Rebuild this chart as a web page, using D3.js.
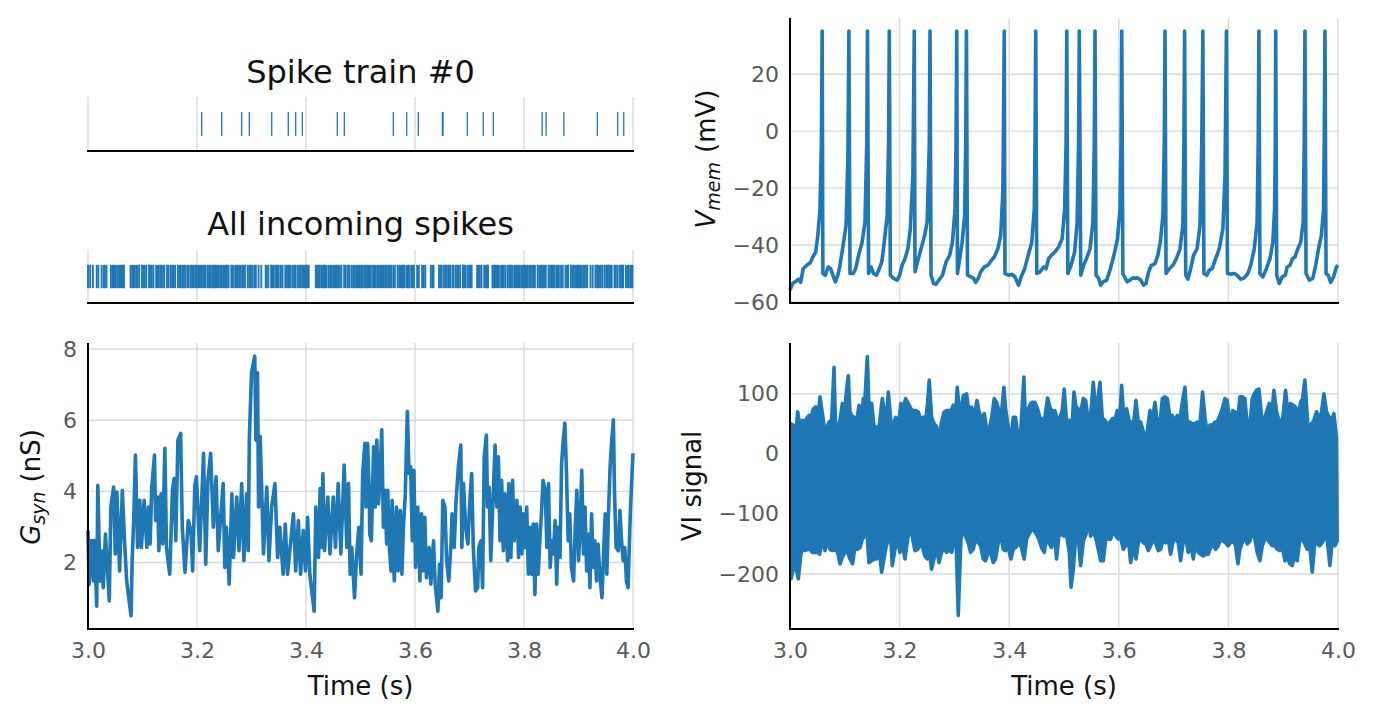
<!DOCTYPE html>
<html><head><meta charset="utf-8">
<script src="https://cdn.jsdelivr.net/npm/d3@7"></script>
<style>body{margin:0;background:#fff}svg text{font-family:"DejaVu Sans",sans-serif}</style>
</head><body><svg id="c" width="1374" height="719"></svg>
<script>
// ---------------- DATA ----------------
const xDomain = [3.0, 4.0];
const xTicks = [3.0, 3.2, 3.4, 3.6, 3.8, 4.0];
const gsynTicks = [2, 4, 6, 8];
const vmemTicks = [-60, -40, -20, 0, 20];
const viTicks = [-200, -100, 0, 100];

const spikeTrain0 = [3.2086,3.2453,3.2820,3.2960,3.3371,3.3675,3.3811,3.3932,3.4574,3.4703,3.5602,3.5848,3.6061,3.6502,3.6515,3.6960,3.7253,3.7437,3.8333,3.8405,3.8732,3.9346,3.9719,3.9830];

const allSpikes = [3.000,3.004,3.009,3.016,3.019,3.025,3.029,3.031,3.034,3.042,3.045,3.047,3.049,3.051,3.054,3.057,3.059,3.062,3.064,3.066,
3.078,3.081,3.083,3.086,3.089,3.091,3.094,3.099,3.102,3.104,3.107,3.112,3.115,3.117,3.120,3.125,3.128,3.130,3.133,3.135,3.138,3.140,
3.145,3.148,3.152,3.155,3.157,3.160,3.165,3.168,3.170,3.173,3.175,3.178,3.182,3.185,3.189,3.192,3.194,3.197,3.199,3.202,3.204,3.207,
3.209,3.212,3.214,3.216,3.220,3.223,3.225,3.228,3.230,3.233,3.235,3.238,3.240,3.243,3.245,3.248,3.250,3.253,3.255,3.258,3.263,3.266,
3.270,3.273,3.275,3.278,3.280,3.283,3.285,3.288,3.293,3.296,3.298,3.301,3.305,3.308,3.313,3.318,3.326,3.328,3.331,3.336,3.338,3.341,
3.345,3.348,3.350,3.354,3.357,3.362,3.364,3.367,3.369,3.372,3.376,3.379,3.381,3.385,3.388,3.390,3.393,3.395,3.398,3.400,3.403,3.405,
3.418,3.420,3.423,3.425,3.428,3.430,3.433,3.435,3.438,3.442,3.445,3.447,3.450,3.452,3.455,3.457,3.460,3.462,3.465,3.470,3.473,3.477,
3.480,3.484,3.487,3.489,3.492,3.494,3.497,3.499,3.502,3.504,3.507,3.509,3.512,3.514,3.517,3.519,3.523,3.526,3.528,3.531,3.533,3.536,
3.538,3.541,3.543,3.546,3.548,3.551,3.553,3.556,3.560,3.563,3.568,3.571,3.573,3.576,3.578,3.580,3.584,3.587,3.589,3.593,3.596,3.598,
3.604,3.607,3.613,3.616,3.619,3.629,3.632,3.634,3.644,3.647,3.649,3.653,3.656,3.658,3.661,3.663,3.665,3.669,3.671,3.675,3.678,3.680,
3.683,3.688,3.690,3.693,3.697,3.700,3.702,3.704,3.714,3.717,3.719,3.722,3.727,3.730,3.732,3.734,3.742,3.745,3.747,3.750,3.752,3.754,
3.758,3.761,3.763,3.766,3.770,3.773,3.775,3.778,3.782,3.785,3.787,3.790,3.792,3.795,3.797,3.800,3.802,3.805,3.807,3.810,3.812,3.815,
3.817,3.820,3.825,3.828,3.830,3.833,3.835,3.838,3.840,3.845,3.848,3.850,3.853,3.855,3.859,3.862,3.864,3.868,3.871,3.876,3.879,3.881,
3.886,3.889,3.891,3.894,3.896,3.899,3.901,3.904,3.906,3.909,3.911,3.914,3.916,3.922,3.926,3.931,3.934,3.936,3.939,3.941,3.944,3.948,
3.951,3.953,3.956,3.958,3.961,3.966,3.968,3.971,3.975,3.978,3.980,3.982,3.987,3.990,3.992,3.995,3.997,3.999];

const gsynTrace = [
[3.000,2.90],[3.002,1.38],[3.007,2.62],[3.010,1.48],[3.012,2.62],[3.016,0.77],[3.018,4.17],[3.022,1.48],[3.025,2.33],[3.028,1.29],
[3.032,2.80],[3.039,0.92],[3.042,3.56],[3.047,4.12],[3.050,2.24],[3.053,3.98],[3.058,1.76],[3.063,4.03],[3.067,2.61],[3.071,1.48],
[3.079,0.50],[3.081,2.05],[3.084,3.27],[3.087,5.02],[3.091,2.42],[3.095,3.75],[3.098,2.42],[3.103,3.75],[3.108,2.42],[3.111,3.56],
[3.114,2.52],[3.117,4.12],[3.122,5.02],[3.124,3.18],[3.128,3.84],[3.130,2.33],[3.134,3.93],[3.137,2.52],[3.141,5.21],[3.144,2.42],
[3.150,1.67],[3.155,4.03],[3.158,4.36],[3.161,2.61],[3.165,5.44],[3.170,5.63],[3.173,2.99],[3.178,1.72],[3.184,3.18],[3.189,2.90],
[3.192,1.76],[3.196,4.17],[3.199,4.41],[3.205,2.33],[3.212,5.07],[3.216,1.95],[3.220,4.31],[3.225,5.07],[3.230,2.99],[3.235,4.41],
[3.239,2.33],[3.248,4.22],[3.251,1.86],[3.254,2.99],[3.259,1.39],[3.264,3.93],[3.267,2.14],[3.273,3.84],[3.277,2.33],[3.282,4.22],
[3.286,2.05],[3.291,3.93],[3.294,2.33],[3.296,5.44],[3.300,7.33],[3.306,7.80],[3.308,5.44],[3.311,7.33],[3.313,3.56],[3.316,5.54],
[3.322,2.24],[3.328,4.12],[3.332,2.05],[3.337,3.56],[3.343,4.22],[3.348,2.14],[3.352,2.99],[3.358,1.67],[3.362,3.08],[3.366,1.67],
[3.377,3.37],[3.381,1.76],[3.386,3.18],[3.390,1.67],[3.395,2.90],[3.399,1.76],[3.403,3.27],[3.407,1.67],[3.415,0.63],[3.418,3.56],
[3.423,2.14],[3.426,4.08],[3.429,2.42],[3.431,4.50],[3.434,2.33],[3.440,3.84],[3.444,2.24],[3.450,3.84],[3.454,2.42],[3.459,4.22],
[3.464,2.24],[3.470,4.74],[3.475,2.42],[3.478,4.22],[3.481,1.67],[3.484,2.42],[3.489,1.01],[3.493,2.24],[3.497,2.99],[3.501,1.67],
[3.504,4.50],[3.508,5.35],[3.510,3.56],[3.513,5.35],[3.516,4.03],[3.517,2.80],[3.520,2.61],[3.524,5.25],[3.527,3.56],[3.530,5.44],
[3.533,3.65],[3.536,4.50],[3.539,5.73],[3.542,2.99],[3.545,4.03],[3.548,2.52],[3.550,4.03],[3.553,2.42],[3.556,1.76],[3.558,3.75],
[3.562,1.48],[3.566,3.56],[3.569,1.76],[3.573,3.46],[3.576,1.67],[3.579,3.08],[3.582,3.84],[3.586,6.25],[3.589,4.50],[3.592,4.69],
[3.595,2.61],[3.598,4.59],[3.601,1.86],[3.605,3.56],[3.609,1.48],[3.612,3.37],[3.615,1.76],[3.618,3.27],[3.621,1.57],[3.626,2.42],
[3.629,1.39],[3.634,2.61],[3.637,1.39],[3.642,0.63],[3.645,1.95],[3.648,1.01],[3.651,3.75],[3.655,3.56],[3.658,2.05],[3.662,1.48],
[3.666,2.52],[3.668,3.37],[3.672,2.42],[3.675,3.65],[3.680,4.78],[3.684,5.30],[3.686,2.42],[3.689,4.22],[3.693,2.99],[3.697,2.52],
[3.701,3.84],[3.704,4.50],[3.707,2.42],[3.711,1.20],[3.715,1.29],[3.717,2.42],[3.721,2.61],[3.724,1.29],[3.727,4.97],[3.731,5.58],
[3.733,3.56],[3.736,4.12],[3.739,2.05],[3.744,4.12],[3.747,5.30],[3.750,3.56],[3.753,4.97],[3.756,2.61],[3.759,4.31],[3.762,2.33],
[3.765,3.93],[3.770,2.05],[3.772,4.22],[3.776,2.14],[3.779,4.31],[3.782,2.61],[3.787,3.75],[3.790,2.14],[3.793,3.56],[3.796,2.24],
[3.799,3.37],[3.802,2.42],[3.805,3.56],[3.808,1.67],[3.811,2.99],[3.814,1.67],[3.817,3.08],[3.820,1.10],[3.823,3.08],[3.826,1.67],
[3.829,2.61],[3.832,3.37],[3.835,4.31],[3.839,4.03],[3.842,2.42],[3.845,4.22],[3.848,1.86],[3.851,2.61],[3.854,2.24],[3.857,3.18],
[3.860,1.39],[3.863,2.99],[3.866,2.14],[3.869,4.78],[3.872,5.44],[3.875,5.92],[3.878,4.50],[3.881,2.61],[3.884,3.37],[3.887,1.86],
[3.891,1.48],[3.894,2.99],[3.897,4.03],[3.900,2.05],[3.903,2.99],[3.906,4.59],[3.909,2.24],[3.912,3.56],[3.915,1.76],[3.918,2.80],
[3.921,1.29],[3.924,3.37],[3.927,1.86],[3.930,2.61],[3.933,1.48],[3.936,2.52],[3.939,1.67],[3.943,1.01],[3.946,2.24],[3.949,3.37],
[3.952,1.67],[3.955,3.37],[3.958,4.69],[3.961,5.44],[3.964,6.01],[3.966,4.03],[3.969,2.42],[3.973,2.33],[3.976,3.46],[3.979,2.61],
[3.982,2.05],[3.985,2.42],[3.988,1.48],[3.991,1.29],[3.995,3.37],[3.998,4.41],[4.000,5.07]];

const vmemTrace = [
[3.0000,-55.8],[3.0046,-53.5],[3.0111,-52.7],[3.0156,-52.0],[3.0195,-53.1],[3.0241,-48.3],[3.0306,-47.1],[3.0371,-46.2],[3.0417,-44.2],[3.0469,-42.4],[3.0508,-36.6],[3.0547,-27.3],[3.0573,-4.1],[3.0587,35.2],
[3.0600,-50.0],[3.0645,-50.6],[3.0697,-47.7],[3.0743,-48.3],[3.0782,-50.6],[3.0828,-52.9],[3.0873,-50.6],[3.0912,-47.1],[3.0978,-39.0],[3.1023,-33.1],[3.1056,-9.9],[3.1075,35.2],
[3.1095,-50.0],[3.1153,-50.0],[3.1199,-48.3],[3.1251,-43.6],[3.1316,-39.0],[3.1368,-32.0],[3.1401,-4.1],[3.1414,35.2],
[3.1434,-50.0],[3.1479,-47.7],[3.1525,-50.0],[3.1577,-50.6],[3.1629,-48.3],[3.1675,-45.9],[3.1720,-39.0],[3.1773,-29.7],[3.1799,-4.1],[3.1812,35.2],
[3.1831,-50.6],[3.1890,-51.7],[3.1955,-52.3],[3.2001,-50.6],[3.2046,-47.1],[3.2098,-44.8],[3.2151,-41.3],[3.2196,-34.3],[3.2242,-15.7],[3.2268,35.2],
[3.2281,-49.4],[3.2327,-45.9],[3.2392,-41.3],[3.2457,-36.6],[3.2503,-32.0],[3.2542,-4.1],[3.2555,35.2],
[3.2574,-50.6],[3.2620,-53.5],[3.2665,-53.8],[3.2718,-52.3],[3.2783,-50.6],[3.2848,-45.9],[3.2913,-43.6],[3.2965,-39.0],[3.3011,-27.3],[3.3030,-4.1],[3.3043,35.2],
[3.3056,-50.0],[3.3095,-45.0],[3.3141,-39.0],[3.3187,-29.7],[3.3207,-4.1],[3.3220,35.2],
[3.3239,-50.6],[3.3304,-51.2],[3.3350,-51.7],[3.3389,-53.1],[3.3434,-51.7],[3.3480,-49.4],[3.3545,-47.7],[3.3610,-47.1],[3.3676,-45.4],[3.3728,-44.2],[3.3793,-41.3],[3.3845,-36.6],[3.3884,-21.5],[3.3910,35.2],
[3.3923,-50.0],[3.3988,-50.6],[3.4053,-50.3],[3.4106,-51.2],[3.4171,-54.1],[3.4217,-51.2],[3.4282,-48.3],[3.4347,-43.6],[3.4412,-39.0],[3.4458,-27.3],[3.4471,-4.1],[3.4484,35.2],
[3.4503,-50.0],[3.4562,-49.4],[3.4627,-47.7],[3.4673,-48.3],[3.4718,-44.8],[3.4770,-43.6],[3.4836,-42.4],[3.4901,-40.7],[3.4966,-37.8],[3.5012,-27.3],[3.5038,-4.1],[3.5051,35.2],
[3.5070,-50.0],[3.5129,-47.1],[3.5194,-42.4],[3.5240,-32.0],[3.5266,-4.1],[3.5279,35.2],
[3.5305,-50.6],[3.5357,-47.1],[3.5410,-44.8],[3.5475,-41.3],[3.5527,-32.0],[3.5553,-4.1],[3.5566,35.2],
[3.5585,-50.6],[3.5631,-51.7],[3.5670,-54.1],[3.5715,-52.9],[3.5780,-52.3],[3.5846,-48.3],[3.5911,-43.6],[3.5976,-37.8],[3.6022,-27.3],[3.6041,-4.1],[3.6054,35.2],
[3.6074,-50.0],[3.6106,-51.2],[3.6152,-52.9],[3.6204,-52.3],[3.6256,-51.5],[3.6302,-51.7],[3.6347,-51.5],[3.6400,-52.3],[3.6452,-54.1],[3.6497,-53.5],[3.6543,-49.4],[3.6595,-47.1],[3.6660,-46.5],[3.6712,-43.6],[3.6758,-39.0],[3.6804,-29.7],[3.6830,-4.1],[3.6843,35.2],
[3.6862,-50.0],[3.6921,-48.3],[3.6986,-47.1],[3.7051,-44.8],[3.7117,-41.3],[3.7169,-33.1],[3.7188,-4.1],[3.7201,35.2],
[3.7221,-50.6],[3.7260,-52.0],[3.7312,-48.3],[3.7364,-43.6],[3.7429,-41.3],[3.7481,-33.1],[3.7514,-4.1],[3.7534,35.2],
[3.7553,-50.0],[3.7605,-50.6],[3.7651,-48.8],[3.7703,-48.3],[3.7768,-44.8],[3.7833,-41.3],[3.7899,-34.3],[3.7938,-15.7],[3.7964,35.2],
[3.7983,-50.0],[3.8042,-50.2],[3.8107,-50.0],[3.8159,-50.6],[3.8224,-52.0],[3.8289,-51.5],[3.8355,-50.0],[3.8407,-47.1],[3.8472,-41.3],[3.8524,-32.0],[3.8544,-4.1],[3.8557,35.2],
[3.8576,-50.0],[3.8628,-51.2],[3.8693,-48.3],[3.8759,-44.8],[3.8811,-39.0],[3.8843,-27.3],[3.8856,-4.1],[3.8863,35.2],
[3.8882,-50.6],[3.8928,-53.5],[3.8980,-51.2],[3.9039,-50.6],[3.9071,-47.7],[3.9123,-47.1],[3.9169,-44.8],[3.9215,-44.2],[3.9267,-41.3],[3.9319,-39.0],[3.9364,-32.0],[3.9384,-4.1],[3.9397,35.2],
[3.9417,-50.0],[3.9475,-52.3],[3.9540,-51.7],[3.9593,-47.1],[3.9645,-41.3],[3.9697,-36.6],[3.9736,-27.3],[3.9749,-4.1],[3.9762,35.2],
[3.9782,-50.0],[3.9821,-50.6],[3.9867,-53.1],[3.9919,-51.2],[3.9971,-47.7],[4.0000,-47.1]];

const viUpper = [
[3.0018,50],[3.0061,48],[3.0103,28],[3.0140,70],[3.0182,45],[3.0225,56],[3.0262,53],[3.0304,59],[3.0347,64],[3.0383,61],
[3.0426,75],[3.0468,78],[3.0505,56],[3.0547,95],[3.0578,75],[3.0626,45],[3.0669,42],[3.0711,53],[3.0760,56],[3.0803,144],
[3.0833,39],[3.0870,45],[3.0912,56],[3.0955,84],[3.0991,50],[3.1021,97],[3.1064,130],[3.1094,70],[3.1125,64],[3.1173,61],
[3.1216,53],[3.1259,81],[3.1295,48],[3.1338,92],[3.1368,92],[3.1411,162],[3.1441,78],[3.1490,84],[3.1538,42],[3.1581,45],
[3.1623,42],[3.1684,92],[3.1721,72],[3.1751,48],[3.1794,103],[3.1842,53],[3.1885,48],[3.1927,61],[3.1976,45],[3.2024,84],
[3.2067,78],[3.2110,92],[3.2158,84],[3.2207,75],[3.2249,72],[3.2292,72],[3.2341,70],[3.2389,56],[3.2432,61],[3.2475,56],
[3.2511,84],[3.2541,123],[3.2584,61],[3.2633,50],[3.2675,45],[3.2718,23],[3.2766,53],[3.2815,70],[3.2858,72],[3.2900,72],
[3.2937,72],[3.2979,81],[3.3022,64],[3.3052,111],[3.3083,78],[3.3131,78],[3.3162,97],[3.3222,100],[3.3265,70],[3.3314,78],
[3.3362,61],[3.3411,89],[3.3447,72],[3.3496,56],[3.3544,67],[3.3587,42],[3.3630,39],[3.3678,59],[3.3727,92],[3.3770,86],
[3.3812,72],[3.3861,70],[3.3903,111],[3.3934,75],[3.3982,45],[3.4031,23],[3.4073,61],[3.4116,61],[3.4165,23],[3.4213,42],
[3.4268,128],[3.4298,48],[3.4347,75],[3.4390,84],[3.4420,86],[3.4469,86],[3.4517,75],[3.4560,61],[3.4602,56],[3.4651,61],
[3.4700,93],[3.4742,78],[3.4785,70],[3.4833,72],[3.4882,56],[3.4925,61],[3.4967,72],[3.5004,108],
[3.5049,50],[3.5097,56],[3.5140,34],[3.5182,103],[3.5219,78],[3.5261,75],[3.5304,70],[3.5353,92],[3.5395,89],[3.5444,53],
[3.5486,64],[3.5535,119],[3.5578,70],[3.5614,89],[3.5657,119],[3.5699,59],[3.5748,56],[3.5790,48],[3.5839,53],[3.5888,59],
[3.5930,56],[3.5973,72],[3.6009,48],[3.6052,114],[3.6094,53],[3.6143,75],[3.6186,56],[3.6234,50],[3.6277,56],[3.6313,89],
[3.6356,53],[3.6398,53],[3.6447,37],[3.6490,23],[3.6520,39],[3.6569,72],[3.6611,56],[3.6660,86],[3.6702,53],[3.6751,50],
[3.6794,92],[3.6836,95],[3.6885,92],[3.6933,61],[3.6976,64],[3.7025,53],[3.7067,64],[3.7116,56],[3.7158,86],[3.7207,111],
[3.7250,50],[3.7298,53],[3.7341,50],[3.7389,50],[3.7432,53],[3.7481,50],[3.7529,103],[3.7572,61],[3.7614,34],[3.7663,48],
[3.7712,48],[3.7754,53],[3.7797,53],[3.7845,64],[3.7888,75],[3.7937,92],[3.7979,89],[3.8028,42],[3.8076,72],[3.8119,70],
[3.8162,50],[3.8210,95],[3.8253,95],[3.8301,92],[3.8344,48],[3.8393,50],[3.8435,92],[3.8472,100],[3.8514,106],[3.8557,108],
[3.8605,61],[3.8648,56],[3.8697,70],[3.8745,84],[3.8788,61],[3.8830,106],[3.8879,70],[3.8922,56],[3.8958,42],[3.9001,67],
[3.9043,106],[3.9092,61],[3.9134,84],[3.9183,81],[3.9225,78],[3.9274,64],[3.9317,86],[3.9353,92],[3.9396,123],[3.9438,64],
[3.9475,23],[3.9517,50],[3.9560,56],[3.9609,70],[3.9657,56],[3.9700,70],[3.9742,100],[3.9791,70],[3.9839,61],[3.9882,56],
[3.9925,67],[3.9973,26]];

const viLower = [
[3.0018,-208],[3.0061,-192],[3.0103,-186],[3.0152,-208],[3.0195,-170],[3.0225,-159],[3.0274,-161],[3.0322,-159],[3.0365,-159],[3.0407,-164],
[3.0456,-164],[3.0499,-164],[3.0541,-167],[3.0590,-142],[3.0638,-161],[3.0687,-142],[3.0730,-159],[3.0772,-161],[3.0821,-159],[3.0869,-164],
[3.0912,-183],[3.0955,-172],[3.1003,-164],[3.1052,-164],[3.1094,-175],[3.1143,-183],[3.1186,-153],[3.1234,-159],[3.1277,-156],[3.1319,-142],
[3.1368,-137],[3.1398,-123],[3.1441,-181],[3.1490,-178],[3.1538,-175],[3.1581,-175],[3.1623,-156],[3.1672,-197],[3.1715,-175],[3.1751,-156],
[3.1794,-142],[3.1830,-126],[3.1867,-186],[3.1915,-159],[3.1964,-142],[3.2006,-164],[3.2049,-148],[3.2098,-175],[3.2146,-142],[3.2189,-126],
[3.2231,-137],[3.2280,-161],[3.2329,-159],[3.2371,-153],[3.2414,-153],[3.2462,-170],[3.2505,-175],[3.2547,-164],[3.2584,-192],[3.2627,-175],
[3.2675,-156],[3.2718,-181],[3.2766,-164],[3.2809,-156],[3.2858,-164],[3.2900,-159],[3.2949,-164],[3.2997,-142],[3.3028,-134],[3.3070,-269],
[3.3119,-142],[3.3162,-126],[3.3204,-137],[3.3253,-148],[3.3295,-164],[3.3344,-159],[3.3387,-142],[3.3435,-148],[3.3478,-153],[3.3526,-175],
[3.3569,-178],[3.3618,-164],[3.3660,-164],[3.3709,-181],[3.3751,-175],[3.3800,-148],[3.3843,-134],[3.3891,-159],[3.3934,-161],[3.3982,-156],
[3.4031,-175],[3.4073,-159],[3.4116,-156],[3.4165,-150],[3.4213,-153],[3.4274,-175],[3.4317,-142],[3.4359,-134],[3.4408,-126],[3.4456,-128],
[3.4499,-134],[3.4542,-142],[3.4590,-156],[3.4639,-164],[3.4681,-142],[3.4724,-148],[3.4773,-156],[3.4821,-126],[3.4864,-175],[3.4906,-137],
[3.4955,-134],[3.5004,-137],
[3.5049,-137],[3.5097,-164],[3.5128,-222],[3.5170,-192],[3.5213,-139],[3.5261,-142],[3.5304,-186],[3.5353,-145],[3.5401,-134],[3.5444,-109],
[3.5486,-137],[3.5535,-128],[3.5584,-142],[3.5626,-159],[3.5669,-178],[3.5717,-178],[3.5766,-139],[3.5809,-142],[3.5851,-142],[3.5900,-128],
[3.5948,-137],[3.5991,-142],[3.6034,-139],[3.6082,-159],[3.6125,-153],[3.6173,-139],[3.6216,-181],[3.6265,-153],[3.6313,-175],[3.6356,-148],
[3.6404,-139],[3.6447,-148],[3.6496,-150],[3.6538,-161],[3.6581,-153],[3.6629,-142],[3.6678,-150],[3.6720,-161],[3.6763,-159],[3.6812,-142],
[3.6854,-148],[3.6903,-142],[3.6945,-167],[3.6994,-145],[3.7037,-142],[3.7085,-148],[3.7128,-178],[3.7177,-145],[3.7225,-142],[3.7268,-164],
[3.7310,-148],[3.7359,-175],[3.7408,-142],[3.7450,-164],[3.7493,-167],[3.7541,-170],[3.7584,-167],[3.7633,-167],[3.7675,-156],[3.7724,-153],
[3.7766,-159],[3.7815,-153],[3.7858,-142],[3.7906,-145],[3.7949,-148],[3.7997,-153],[3.8040,-148],[3.8089,-145],[3.8131,-153],[3.8174,-183],
[3.8210,-159],[3.8253,-148],[3.8301,-139],[3.8344,-150],[3.8393,-145],[3.8435,-128],[3.8484,-142],[3.8526,-164],[3.8575,-178],[3.8618,-153],
[3.8666,-142],[3.8709,-142],[3.8757,-148],[3.8800,-153],[3.8849,-153],[3.8891,-159],[3.8940,-161],[3.8982,-153],[3.9031,-178],[3.9074,-172],
[3.9122,-183],[3.9165,-186],[3.9207,-172],[3.9256,-178],[3.9304,-142],[3.9347,-142],[3.9396,-150],[3.9438,-159],[3.9487,-156],[3.9530,-197],
[3.9578,-145],[3.9621,-150],[3.9669,-153],[3.9712,-148],[3.9760,-139],[3.9803,-142],[3.9852,-186],[3.9900,-142],[3.9943,-153],[3.9985,-145]];

// ---------------- DRAWING ----------------
const svg = d3.select("#c");
const BLUE = "#1f77b4", GRID = "#dadada", TICKC = "#595959", TXT = "#111";
const FT = 22;
const LW = 3.6;

function panel(o) {
  const x = d3.scaleLinear().domain(xDomain).range([o.x0, o.x1]);
  const y = d3.scaleLinear().domain(o.yDomain).range([o.y1, o.y0]);
  const g = svg.append("g");
  const grid = g.append("g");
  grid.selectAll("line.v").data(xTicks).join("line").attr("class","v")
    .attr("x1", d => x(d)).attr("x2", d => x(d)).attr("y1", o.y0).attr("y2", o.y1)
    .attr("stroke", GRID).attr("stroke-width", 1.4);
  if (o.yTicks) grid.selectAll("line.h").data(o.yTicks).join("line").attr("class","h")
    .attr("x1", o.x0).attr("x2", o.x1).attr("y1", d => y(d)).attr("y2", d => y(d))
    .attr("stroke", GRID).attr("stroke-width", 1.4);
  const data = g.append("g");
  const top = g.append("g");
  return {x, y, data, top, o};
}
function spines(p, left) {
  const o = p.o;
  if (left) p.top.append("line").attr("x1", o.x0).attr("x2", o.x0).attr("y1", o.y0).attr("y2", o.y1 + 1)
    .attr("stroke", "#000").attr("stroke-width", 2);
  p.top.append("line").attr("x1", o.x0 - 1).attr("x2", o.x1 + 1).attr("y1", o.y1).attr("y2", o.y1)
    .attr("stroke", "#000").attr("stroke-width", 2);
}
function styleAxis(sel) {
  sel.select(".domain").remove();
  sel.attr("font-family", null).attr("font-size", null);
  sel.selectAll("text").attr("font-size", FT).attr("fill", TICKC).style("font-family", "'DejaVu Sans'");
}
function xAxis(p) {
  const a = p.top.append("g").attr("transform", `translate(0,${p.o.y1})`)
    .call(d3.axisBottom(p.x).tickValues(xTicks).tickSize(0).tickPadding(13).tickFormat(d3.format(".1f")));
  styleAxis(a);
}
const fmtInt = d => (d < 0 ? "\u2212" + Math.abs(d) : String(d));
function yAxis(p, ticks) {
  const a = p.top.append("g").attr("transform", `translate(${p.o.x0},0)`)
    .call(d3.axisLeft(p.y).tickValues(ticks).tickSize(0).tickPadding(11).tickFormat(fmtInt));
  styleAxis(a);
}
function eventRows(p, times, w) {
  p.data.selectAll("line").data(times).join("line")
    .attr("x1", d => p.x(d)).attr("x2", d => p.x(d))
    .attr("y1", p.y(-0.44)).attr("y2", p.y(0.44))
    .attr("stroke", BLUE).attr("stroke-width", w);
}
function title(text, cx, base) {
  svg.append("text").attr("x", cx).attr("y", base).attr("text-anchor", "middle")
    .attr("font-size", 32).attr("fill", TXT).text(text);
}
function xLabel(cx) {
  svg.append("text").attr("x", cx).attr("y", 695).attr("text-anchor", "middle")
    .attr("font-size", 26).attr("fill", TXT).text("Time (s)");
}
function yLabel(x, cy, parts) {
  const t = svg.append("text").attr("transform", `translate(${x},${cy}) rotate(-90)`)
    .attr("text-anchor", "middle").attr("font-size", 26).attr("fill", TXT);
  parts(t);
}

// Spike train #0
const p1 = panel({x0: 88, x1: 633, y0: 97, y1: 151, yDomain: [-1, 1]});
eventRows(p1, spikeTrain0, 1.3);
spines(p1, false);
title("Spike train #0", 360.5, 83);

// All incoming spikes
const p2 = panel({x0: 88, x1: 633, y0: 250, y1: 303, yDomain: [-1, 1]});
eventRows(p2, allSpikes, 1.9);
spines(p2, false);
title("All incoming spikes", 360.5, 235);

// G_syn
const p3 = panel({x0: 88, x1: 633, y0: 343, y1: 629, yDomain: [0.13, 8.17], yTicks: gsynTicks});
p3.data.append("path").datum(gsynTrace)
  .attr("d", d3.line().x(d => p3.x(d[0])).y(d => p3.y(d[1])))
  .attr("fill", "none").attr("stroke", BLUE).attr("stroke-width", LW).attr("stroke-linejoin", "round");
spines(p3, true); xAxis(p3); yAxis(p3, gsynTicks);
xLabel(360.5);
yLabel(40, 487, t => {
  t.append("tspan").attr("font-style", "italic").text("G");
  t.append("tspan").attr("font-style", "italic").attr("font-size", 19).attr("dy", 5).text("syn");
  t.append("tspan").attr("dy", -5).attr("dx", 9).text("(nS)");
});

// V_mem
const p4 = panel({x0: 790, x1: 1338, y0: 18, y1: 303, yDomain: [-60.35, 39.75], yTicks: vmemTicks});
p4.data.append("path").datum(vmemTrace)
  .attr("d", d3.line().x(d => p4.x(d[0])).y(d => p4.y(d[1])))
  .attr("fill", "none").attr("stroke", BLUE).attr("stroke-width", LW).attr("stroke-linejoin", "round");
spines(p4, true); yAxis(p4, vmemTicks);
yLabel(715, 159, t => {
  t.append("tspan").attr("font-style", "italic").text("V");
  t.append("tspan").attr("font-style", "italic").attr("font-size", 19).attr("dy", 5).text("mem");
  t.append("tspan").attr("dy", -5).attr("dx", 9).text("(mV)");
});

// VI signal
const p5 = panel({x0: 790, x1: 1338, y0: 343, y1: 629, yDomain: [-291.6, 184.6], yTicks: viTicks});
const band = viUpper.concat(viLower.slice().reverse());
p5.data.append("path").datum(band)
  .attr("d", d3.line().x(d => p5.x(d[0])).y(d => p5.y(d[1])).curve(d3.curveLinearClosed))
  .attr("fill", BLUE).attr("stroke", BLUE).attr("stroke-width", LW).attr("stroke-linejoin", "round");
spines(p5, true); xAxis(p5); yAxis(p5, viTicks);
xLabel(1064);
yLabel(701, 486, t => { t.text("VI signal"); });
</script></body></html>
